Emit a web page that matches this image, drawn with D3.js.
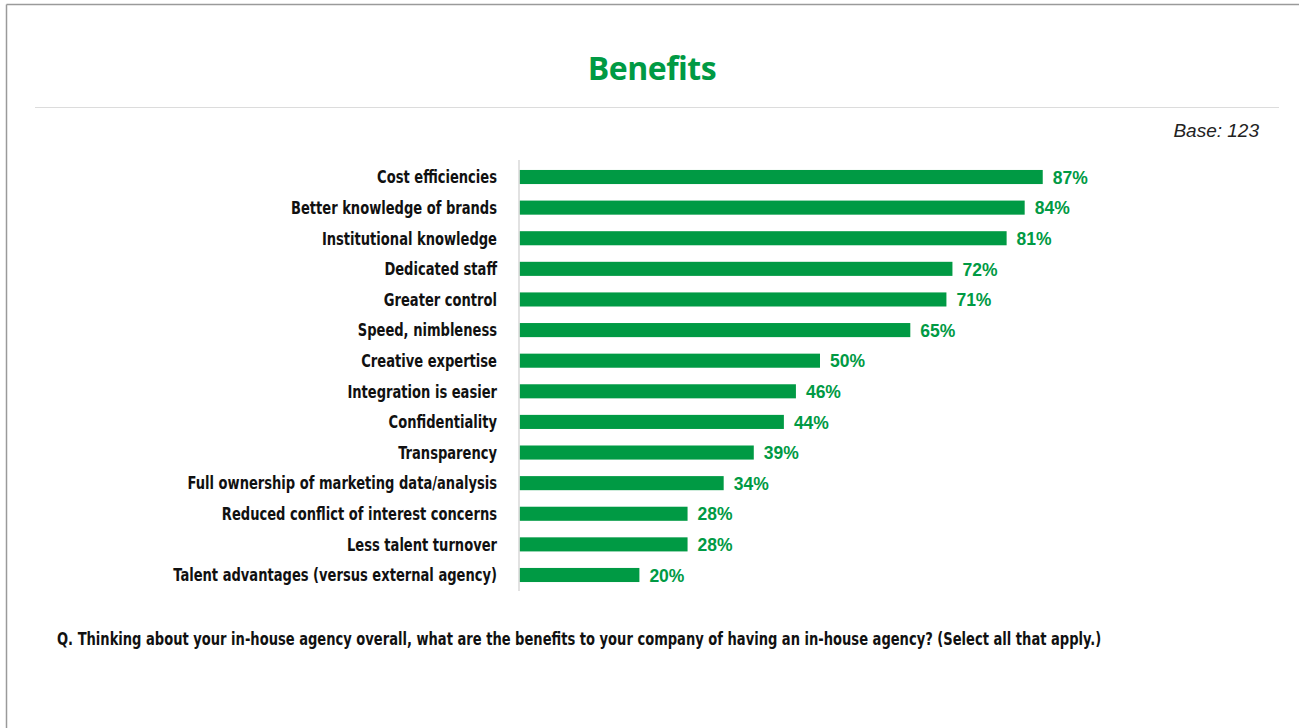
<!DOCTYPE html>
<html>
<head>
<meta charset="utf-8">
<script src="https://cdn.jsdelivr.net/npm/d3@7"></script>
<style>
  html, body { margin: 0; padding: 0; background: #fff; }
  svg { display: block; }
</style>
</head>
<body>
<svg id="chart" width="1299" height="728"></svg>
<script>
// Survey results: share of respondents citing each benefit
const categories = [
  "Cost efficiencies",
  "Better knowledge of brands",
  "Institutional knowledge",
  "Dedicated staff",
  "Greater control",
  "Speed, nimbleness",
  "Creative expertise",
  "Integration is easier",
  "Confidentiality",
  "Transparency",
  "Full ownership of marketing data/analysis",
  "Reduced conflict of interest concerns",
  "Less talent turnover",
  "Talent advantages (versus external agency)"
];
const values = [87, 84, 81, 72, 71, 65, 50, 46, 44, 39, 34, 28, 28, 20];

const titleText = "Benefits";
const baseText = "Base: 123";
const questionText = "Q. Thinking about your in-house agency overall, what are the benefits to your company of having an in-house agency? (Select all that apply.)";

const green = "#009a44";
const condensed = "'Liberation Sans Narrow', 'DejaVu Sans Condensed', 'Roboto Condensed', sans-serif";
const regular = "'Liberation Sans', Arial, sans-serif";
const squeeze = 0.831; // horizontal compression for the condensed-style labels

const svg = d3.select("#chart");

// Frame lines along the top and left edges
svg.append("line").attr("x1", 6.5).attr("x2", 1299).attr("y1", 4.5).attr("y2", 4.5)
  .attr("stroke", "#9a9a9a").attr("stroke-width", 1.5);
svg.append("line").attr("x1", 6.5).attr("x2", 6.5).attr("y1", 4.5).attr("y2", 728)
  .attr("stroke", "#9a9a9a").attr("stroke-width", 1.5);

// Title and divider
svg.append("text").attr("x", 652).attr("y", 80).attr("text-anchor", "middle")
  .attr("font-family", "'Open Sans', 'Liberation Sans', sans-serif").attr("font-weight", 700)
  .attr("font-size", 32).attr("fill", green).attr("letter-spacing", -0.5).text(titleText);
svg.append("line").attr("x1", 35).attr("x2", 1279).attr("y1", 107.5).attr("y2", 107.5)
  .attr("stroke", "#dcdcdc").attr("stroke-width", 1.2);

svg.append("text").attr("x", 1259).attr("y", 137).attr("text-anchor", "end")
  .attr("font-family", regular).attr("font-style", "italic")
  .attr("font-size", 19).attr("fill", "#222").text(baseText);

// Scales
const x = d3.scaleLinear().domain([0, 100]).range([519, 1121]);
const y = d3.scaleBand().domain(categories).range([161.7, 590.3]).paddingInner(0.54).paddingOuter(0.27);

const g = svg.append("g");

// Category axis line
svg.append("line").attr("x1", x(0)).attr("x2", x(0)).attr("y1", 160).attr("y2", 591)
  .attr("stroke", "#d9d9d9").attr("stroke-width", 1.5);

const rows = g.selectAll("g.row").data(categories.map((c, i) => ({ c, v: values[i] })))
  .join("g").attr("class", "row");

rows.append("rect")
  .attr("x", x(0) + 0.5)
  .attr("y", d => y(d.c))
  .attr("width", d => x(d.v) - x(0) - 0.5)
  .attr("height", y.bandwidth())
  .attr("fill", green);

rows.append("text")
  .attr("transform", d => `translate(497,${y(d.c) + y.bandwidth() / 2}) scale(${squeeze},1)`)
  .attr("dy", "0.36em")
  .attr("text-anchor", "end")
  .attr("font-family", condensed).attr("font-weight", 700)
  .attr("font-size", 17.5).attr("fill", "#111")
  .text(d => d.c);

rows.append("text")
  .attr("x", d => x(d.v) + 10)
  .attr("y", d => y(d.c) + y.bandwidth() / 2)
  .attr("dy", "0.38em")
  .attr("font-family", regular).attr("font-weight", 700)
  .attr("font-size", 17.5).attr("fill", green)
  .text(d => d.v + "%");

// Question footnote
svg.append("text").attr("transform", `translate(57,645) scale(${squeeze},1)`)
  .attr("font-family", condensed).attr("font-weight", 700)
  .attr("font-size", 17.5).attr("fill", "#111").text(questionText);
</script>
</body>
</html>
